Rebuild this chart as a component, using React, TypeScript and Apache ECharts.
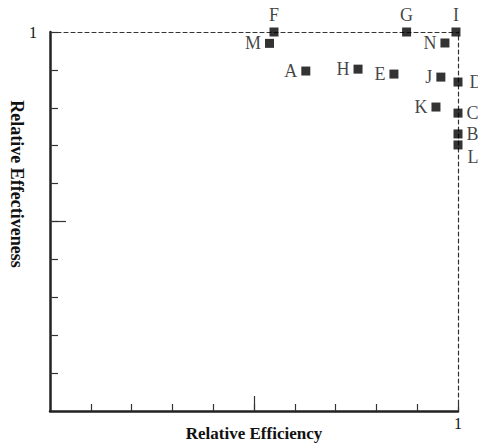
import React, { useEffect, useRef } from "react";
import * as echarts from "echarts";

const names = ["F", "M", "A", "G", "I", "N", "H", "E", "J", "D", "K", "C", "B", "L"];
const efficiency = [0.549, 0.538, 0.627, 0.874, 0.995, 0.968, 0.755, 0.843, 0.958, 1.0, 0.946, 1.0, 1.0, 1.0];
const effectiveness = [1.0, 0.97, 0.897, 1.0, 1.0, 0.971, 0.902, 0.889, 0.881, 0.868, 0.802, 0.786, 0.731, 0.702];
const axisTickLabels = ["1"];
const xTitle = "Relative Efficiency";
const yTitle = "Relative Effectiveness";

const FONT = "'Liberation Serif', 'Times New Roman', serif";

const labelPlacement: Record<string, any> = {
  F: { position: "top", distance: 4 },
  G: { position: "top", distance: 4 },
  I: { position: "top", distance: 4 },
  D: { position: "right", distance: 7 },
  C: { position: "right", distance: 4 },
  B: { position: "right", distance: 4 },
  L: { position: "right", distance: 5, offset: [0, 12] },
};

export default function App() {
  const ref = useRef<HTMLDivElement>(null);
  useEffect(() => {
    if (!ref.current) return;
    const chart = echarts.init(ref.current, null, { renderer: "svg" });
    const data = names.map((n, i) => {
      const p = labelPlacement[n] || { position: "left", distance: 4 };
      return {
        name: n,
        value: [efficiency[i], effectiveness[i]],
        label: { show: true, formatter: n, ...p },
      };
    });
    const isLabelled = (v: number) => axisTickLabels.some((t) => Math.abs(Number(t) - v) < 1e-9);
    const fmt = (v: number) => (isLabelled(v) ? String(Math.round(v)) : "");
    const grid = { left: 50, right: 20, top: 32, bottom: 32, containLabel: false, outerBoundsMode: "none" };
    chart.setOption({
      animation: false,
      backgroundColor: "#ffffff",
      grid,
      xAxis: [
        {
          type: "value",
          min: 0,
          max: 1,
          interval: 0.1,
          position: "bottom",
          axisLine: { show: true, onZero: false, lineStyle: { color: "#222", width: 2.5 } },
          axisTick: { show: true, inside: true, length: 7, lineStyle: { color: "#333", width: 1.2 } },
          axisLabel: { formatter: fmt, margin: 4, color: "#111", fontFamily: FONT, fontSize: 16, showMinLabel: false },
          splitLine: { show: false },
        },
        {
          type: "value",
          min: 0,
          max: 1,
          position: "top",
          axisLine: { show: true, onZero: false, lineStyle: { color: "#333", width: 1.2, type: [4, 3] } },
          axisTick: { show: false },
          axisLabel: { show: false },
          splitLine: { show: false },
        },
        {
          type: "value",
          min: 0,
          max: 1,
          position: "bottom",
          axisLine: { show: false },
          axisTick: { show: true, inside: true, length: 15, customValues: [0.5], lineStyle: { color: "#333", width: 1.2 } },
          axisLabel: { show: false },
          splitLine: { show: false },
        },
      ],
      yAxis: [
        {
          type: "value",
          min: 0,
          max: 1,
          interval: 0.1,
          position: "left",
          axisLine: { show: true, onZero: false, lineStyle: { color: "#222", width: 2.5 } },
          axisTick: { show: true, inside: true, length: 8, lineStyle: { color: "#333", width: 1.2 } },
          axisLabel: { formatter: fmt, margin: 13, color: "#111", fontFamily: FONT, fontSize: 16, showMinLabel: false },
          splitLine: { show: false },
        },
        {
          type: "value",
          min: 0,
          max: 1,
          position: "right",
          axisLine: { show: true, onZero: false, lineStyle: { color: "#333", width: 1.2, type: [4, 3] } },
          axisTick: { show: false },
          axisLabel: { show: false },
          splitLine: { show: false },
        },
        {
          type: "value",
          min: 0,
          max: 1,
          position: "left",
          axisLine: { show: false },
          axisTick: { show: true, inside: true, length: 16, customValues: [0.5], lineStyle: { color: "#333", width: 1.2 } },
          axisLabel: { show: false },
          splitLine: { show: false },
        },
      ],
      graphic: [
        {
          type: "text",
          x: 17,
          y: 184,
          rotation: -Math.PI / 2,
          style: {
            text: yTitle,
            fontFamily: FONT,
            fontWeight: "bold",
            fontSize: 18,
            fill: "#111",
            textAlign: "center",
            textVerticalAlign: "middle",
          },
        },
        {
          type: "text",
          x: 254,
          y: 433,
          style: {
            text: xTitle,
            fontFamily: FONT,
            fontWeight: "bold",
            fontSize: 17,
            fill: "#111",
            textAlign: "center",
            textVerticalAlign: "middle",
          },
        },
      ],
      series: [
        {
          type: "scatter",
          xAxisIndex: 0,
          yAxisIndex: 0,
          symbol: "rect",
          symbolSize: 9,
          clip: false,
          itemStyle: { color: "#000" },
          label: { show: true, color: "#111", fontFamily: FONT, fontSize: 18 },
          data,
        },
      ],
    });
    return () => chart.dispose();
  }, []);
  return (
    <div
      ref={ref}
      style={{ position: "absolute", left: 0, top: 0, width: 478, height: 443, background: "#fff" }}
    />
  );
}
